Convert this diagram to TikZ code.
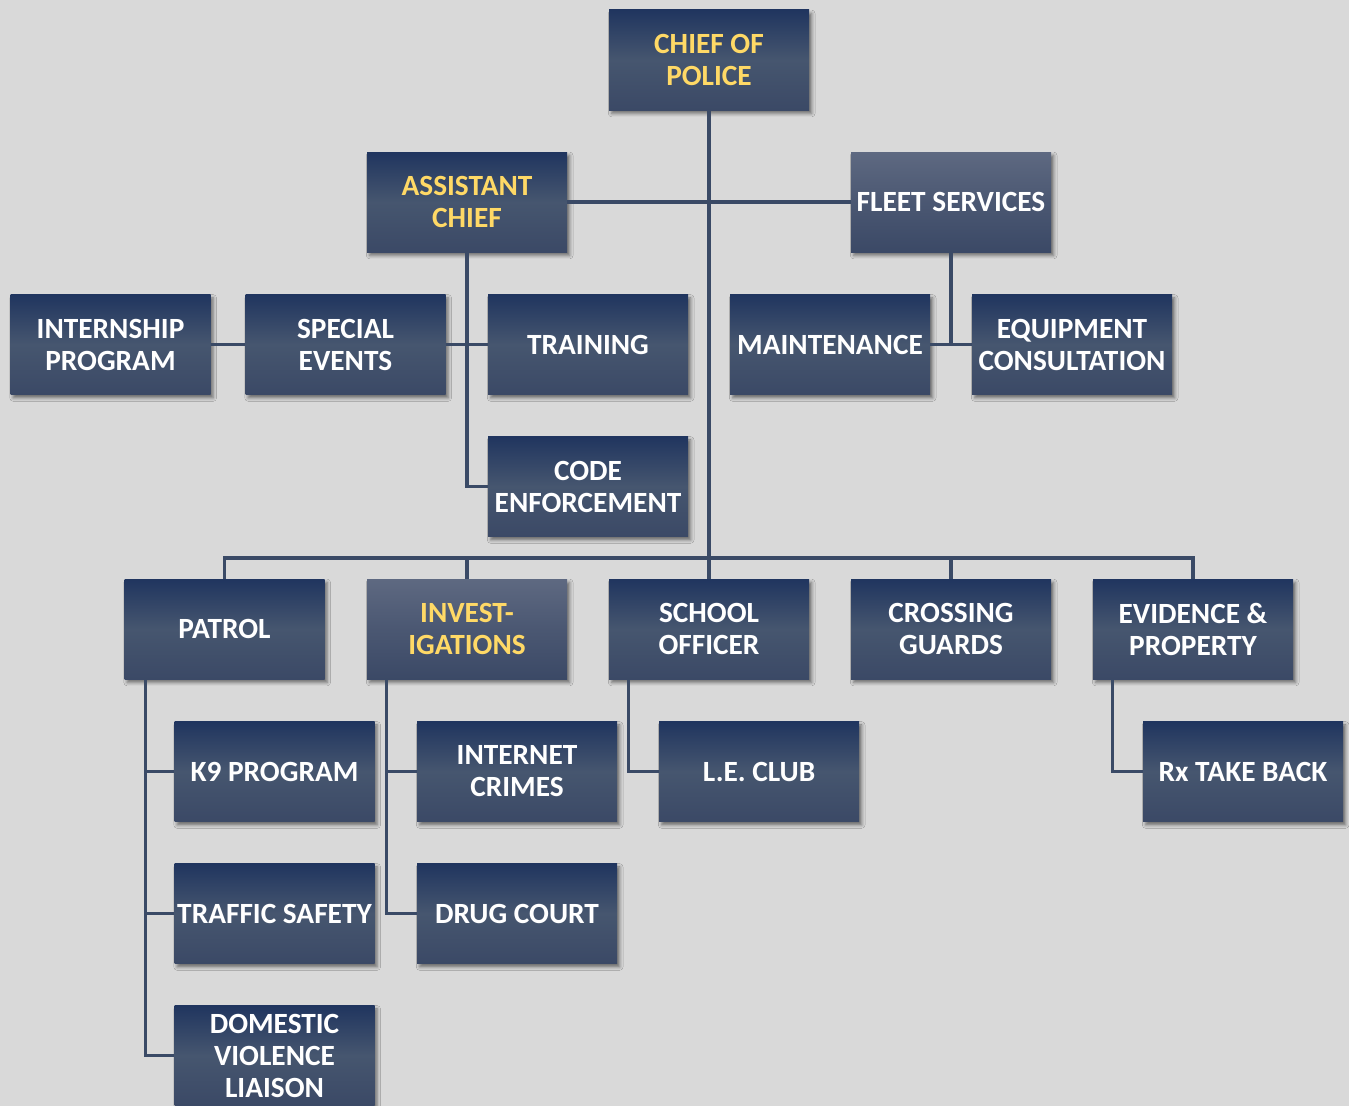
\documentclass[tikz,border=0pt]{standalone}
\usepackage{fontspec}
\setmainfont{Carlito}
\usetikzlibrary{shadows.blur,calc}
\definecolor{bg}{HTML}{D9D9D9}
\definecolor{navytop}{HTML}{20355F}
\definecolor{navymid}{HTML}{46566F}
\definecolor{navybot}{HTML}{3B4966}
\definecolor{greytop}{HTML}{5E6981}
\definecolor{linec}{HTML}{3A4A66}
\definecolor{gold}{HTML}{FFD966}
\begin{document}
\begin{tikzpicture}[x=0.75pt,y=-0.75pt,
  box/.style={minimum width=150pt, minimum height=75pt, inner sep=0pt,
    top color=navytop, bottom color=navybot, middle color=navymid,
    text=white, font=\bfseries\fontsize{22}{24}\selectfont, align=center,
    blur shadow={shadow xshift=2pt, shadow yshift=-2.6pt, shadow blur radius=2.5pt, shadow opacity=50}},
  lightbox/.style={box, top color=greytop, bottom color=navybot, middle color=greytop!45!navybot},
  goldtext/.style={text=gold},
  conn/.style={draw=linec, line width=2.3pt}]
\clip (0,0) rectangle (1349,1106);
\fill[bg] (0,0) rectangle (1349,1106);
\coordinate (bus) at (709,558);

% nodes
\node[box,goldtext] (chief) at (709,60) {CHIEF OF\\POLICE};
\node[box,goldtext] (asst) at (467,202) {ASSISTANT\\CHIEF};
\node[lightbox] (fleet) at (951,202) {FLEET SERVICES};
\node[box] (intern) at (110.5,344.5) {INTERNSHIP\\PROGRAM};
\node[box] (spec) at (345.5,344.5) {SPECIAL\\EVENTS};
\node[box] (train) at (588,344.5) {TRAINING};
\node[box] (maint) at (830,344.5) {MAINTENANCE};
\node[box] (equip) at (1072,344.5) {EQUIPMENT\\CONSULTATION};
\node[box] (code) at (588,486.5) {CODE\\ENFORCEMENT};
\node[box] (patrol) at (224.5,629) {PATROL};
\node[lightbox,goldtext] (inv) at (467,629) {INVEST-\\IGATIONS};
\node[box] (school) at (709,629) {SCHOOL\\OFFICER};
\node[box] (cross) at (951,629) {CROSSING\\GUARDS};
\node[box] (evid) at (1193,629) {EVIDENCE \&\\PROPERTY};
\node[box] (k9) at (274.5,771.5) {K9 PROGRAM};
\node[box] (inet) at (517,771.5) {INTERNET\\CRIMES};
\node[box] (le) at (759,771.5) {L.E. CLUB};
\node[box] (rx) at (1243,771.5) {Rx TAKE BACK};
\node[box] (traffic) at (274.5,913.5) {TRAFFIC SAFETY};
\node[box] (drug) at (517,913.5) {DRUG COURT};
\node[box] (dom) at (274.5,1055.5) {DOMESTIC\\VIOLENCE\\LIAISON};

% connectors
\draw[conn] (chief.south) -- (chief.south |- bus);
\draw[conn] (patrol.north) -- (patrol.north |- bus) -- (evid.north |- bus) -- (evid.north);
\draw[conn] (inv.north) -- (inv.north |- bus);
\draw[conn] (school.north) -- (school.north |- bus);
\draw[conn] (cross.north) -- (cross.north |- bus);
\draw[conn] (asst.east) -- (fleet.west);
\draw[conn] (asst.south) |- (code.west);
\draw[conn] (spec.east) -- (train.west);
\draw[conn] (intern.east) -- (spec.west);
\draw[conn] (fleet.south) -- (fleet.south |- maint.east);
\draw[conn] (maint.east) -- (equip.west);

\coordinate (pp) at ($(patrol.south west)+(21,0)$);
\draw[conn] (pp) |- (dom.west);
\draw[conn] (pp |- k9.west) -- (k9.west);
\draw[conn] (pp |- traffic.west) -- (traffic.west);

\coordinate (ip) at ($(inv.south west)+(20,0)$);
\draw[conn] (ip) |- (drug.west);
\draw[conn] (ip |- inet.west) -- (inet.west);

\coordinate (sp) at ($(school.south west)+(20,0)$);
\draw[conn] (sp) |- (le.west);

\coordinate (ep) at ($(evid.south west)+(20,0)$);
\draw[conn] (ep) |- (rx.west);
\end{tikzpicture}
\end{document}
